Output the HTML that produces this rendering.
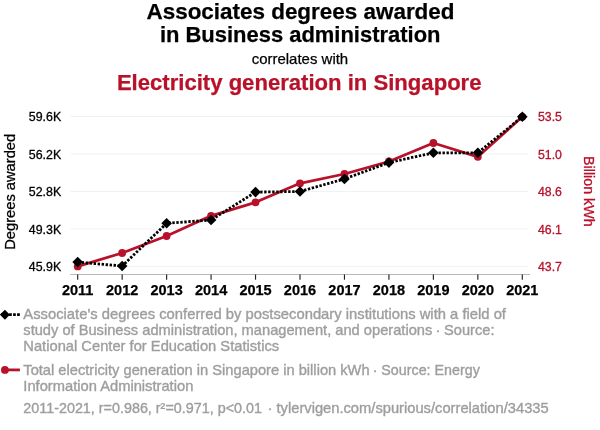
<!DOCTYPE html><html><head><meta charset="utf-8"><style>
html,body{margin:0;padding:0;background:#fff;}
body{width:600px;height:430px;overflow:hidden;position:relative;font-family:"Liberation Sans",sans-serif;}
svg{position:absolute;left:0;top:0;will-change:transform;}
svg text{font-family:"Liberation Sans",sans-serif;}
</style></head><body>
<svg width="600" height="430" viewBox="0 0 600 430">
<text id="t1" x="300.5" y="19.4" text-anchor="middle" font-size="22.45" font-weight="bold" fill="#000" stroke="#000" stroke-width="0.25">Associates degrees awarded</text>
<text id="t2" x="300.2" y="41.5" text-anchor="middle" font-size="21.96" font-weight="bold" fill="#000" stroke="#000" stroke-width="0.25">in Business administration</text>
<text id="t3" x="299.95" y="63.8" text-anchor="middle" font-size="14.97" fill="#000" stroke="#000" stroke-width="0.25">correlates with</text>
<text id="t4" x="299.2" y="89.7" text-anchor="middle" font-size="22.1" font-weight="bold" fill="#b8122a" stroke="#b8122a" stroke-width="0.25">Electricity generation in Singapore</text>
<line x1="70.5" x2="528" y1="116.5" y2="116.5" stroke="#f2f2f2" stroke-width="1"/>
<line x1="70.5" x2="528" y1="154.0" y2="154.0" stroke="#f2f2f2" stroke-width="1"/>
<line x1="70.5" x2="528" y1="191.5" y2="191.5" stroke="#f2f2f2" stroke-width="1"/>
<line x1="70.5" x2="528" y1="229.0" y2="229.0" stroke="#f2f2f2" stroke-width="1"/>
<line x1="70.5" x2="528" y1="266.3" y2="266.3" stroke="#f2f2f2" stroke-width="1"/>
<line x1="70.2" x2="530" y1="274.5" y2="274.5" stroke="#b4b4b4" stroke-width="0.95"/>
<line x1="77.70" x2="77.70" y1="274.5" y2="279.7" stroke="#222" stroke-width="1.15"/>
<line x1="122.16" x2="122.16" y1="274.5" y2="279.7" stroke="#222" stroke-width="1.15"/>
<line x1="166.62" x2="166.62" y1="274.5" y2="279.7" stroke="#222" stroke-width="1.15"/>
<line x1="211.08" x2="211.08" y1="274.5" y2="279.7" stroke="#222" stroke-width="1.15"/>
<line x1="255.54" x2="255.54" y1="274.5" y2="279.7" stroke="#222" stroke-width="1.15"/>
<line x1="300.00" x2="300.00" y1="274.5" y2="279.7" stroke="#222" stroke-width="1.15"/>
<line x1="344.46" x2="344.46" y1="274.5" y2="279.7" stroke="#222" stroke-width="1.15"/>
<line x1="388.92" x2="388.92" y1="274.5" y2="279.7" stroke="#222" stroke-width="1.15"/>
<line x1="433.38" x2="433.38" y1="274.5" y2="279.7" stroke="#222" stroke-width="1.15"/>
<line x1="477.84" x2="477.84" y1="274.5" y2="279.7" stroke="#222" stroke-width="1.15"/>
<line x1="522.30" x2="522.30" y1="274.5" y2="279.7" stroke="#222" stroke-width="1.15"/>
<text class="ll" x="61.2" y="121.0" text-anchor="end" font-size="12.4" fill="#000" stroke="#000" stroke-width="0.3">59.6K</text>
<text class="ll" x="61.2" y="158.5" text-anchor="end" font-size="12.4" fill="#000" stroke="#000" stroke-width="0.3">56.2K</text>
<text class="ll" x="61.2" y="196.0" text-anchor="end" font-size="12.4" fill="#000" stroke="#000" stroke-width="0.3">52.8K</text>
<text class="ll" x="61.2" y="233.5" text-anchor="end" font-size="12.4" fill="#000" stroke="#000" stroke-width="0.3">49.3K</text>
<text class="ll" x="61.2" y="270.8" text-anchor="end" font-size="12.4" fill="#000" stroke="#000" stroke-width="0.3">45.9K</text>
<text class="rl" x="538" y="121.0" text-anchor="start" font-size="12.3" fill="#b8122a" stroke="#b8122a" stroke-width="0.3">53.5</text>
<text class="rl" x="538" y="158.5" text-anchor="start" font-size="12.3" fill="#b8122a" stroke="#b8122a" stroke-width="0.3">51.0</text>
<text class="rl" x="538" y="196.0" text-anchor="start" font-size="12.3" fill="#b8122a" stroke="#b8122a" stroke-width="0.3">48.6</text>
<text class="rl" x="538" y="233.5" text-anchor="start" font-size="12.3" fill="#b8122a" stroke="#b8122a" stroke-width="0.3">46.1</text>
<text class="rl" x="538" y="270.8" text-anchor="start" font-size="12.3" fill="#b8122a" stroke="#b8122a" stroke-width="0.3">43.7</text>
<text class="xl" x="77.70" y="294.6" text-anchor="middle" font-size="14.5" font-weight="bold" fill="#000" stroke="#000" stroke-width="0.25">2011</text>
<text class="xl" x="122.16" y="294.6" text-anchor="middle" font-size="14.5" font-weight="bold" fill="#000" stroke="#000" stroke-width="0.25">2012</text>
<text class="xl" x="166.62" y="294.6" text-anchor="middle" font-size="14.5" font-weight="bold" fill="#000" stroke="#000" stroke-width="0.25">2013</text>
<text class="xl" x="211.08" y="294.6" text-anchor="middle" font-size="14.5" font-weight="bold" fill="#000" stroke="#000" stroke-width="0.25">2014</text>
<text class="xl" x="255.54" y="294.6" text-anchor="middle" font-size="14.5" font-weight="bold" fill="#000" stroke="#000" stroke-width="0.25">2015</text>
<text class="xl" x="300.00" y="294.6" text-anchor="middle" font-size="14.5" font-weight="bold" fill="#000" stroke="#000" stroke-width="0.25">2016</text>
<text class="xl" x="344.46" y="294.6" text-anchor="middle" font-size="14.5" font-weight="bold" fill="#000" stroke="#000" stroke-width="0.25">2017</text>
<text class="xl" x="388.92" y="294.6" text-anchor="middle" font-size="14.5" font-weight="bold" fill="#000" stroke="#000" stroke-width="0.25">2018</text>
<text class="xl" x="433.38" y="294.6" text-anchor="middle" font-size="14.5" font-weight="bold" fill="#000" stroke="#000" stroke-width="0.25">2019</text>
<text class="xl" x="477.84" y="294.6" text-anchor="middle" font-size="14.5" font-weight="bold" fill="#000" stroke="#000" stroke-width="0.25">2020</text>
<text class="xl" x="522.30" y="294.6" text-anchor="middle" font-size="14.5" font-weight="bold" fill="#000" stroke="#000" stroke-width="0.25">2021</text>
<text id="yl" transform="translate(14.7,191.8) rotate(-90)" text-anchor="middle" font-size="14.7" fill="#000" stroke="#000" stroke-width="0.3">Degrees awarded</text>
<text id="yr" transform="translate(584.0,191.35) rotate(90)" text-anchor="middle" textLength="70.6" lengthAdjust="spacingAndGlyphs" font-size="14.7" fill="#b8122a" stroke="#b8122a" stroke-width="0.3">Billion kWh</text>
<polyline points="77.70,266.4 122.16,253.0 166.62,236.0 211.08,215.8 255.54,202.3 300.00,183.3 344.46,174.0 388.92,161.5 433.38,143.0 477.84,156.8 522.30,116.8" fill="none" stroke="#b8122a" stroke-width="2.8" stroke-linejoin="round"/>
<circle cx="77.70" cy="266.4" r="3.9" fill="#b8122a"/>
<circle cx="122.16" cy="253.0" r="3.9" fill="#b8122a"/>
<circle cx="166.62" cy="236.0" r="3.9" fill="#b8122a"/>
<circle cx="211.08" cy="215.8" r="3.9" fill="#b8122a"/>
<circle cx="255.54" cy="202.3" r="3.9" fill="#b8122a"/>
<circle cx="300.00" cy="183.3" r="3.9" fill="#b8122a"/>
<circle cx="344.46" cy="174.0" r="3.9" fill="#b8122a"/>
<circle cx="388.92" cy="161.5" r="3.9" fill="#b8122a"/>
<circle cx="433.38" cy="143.0" r="3.9" fill="#b8122a"/>
<circle cx="477.84" cy="156.8" r="3.9" fill="#b8122a"/>
<circle cx="522.30" cy="116.8" r="3.9" fill="#b8122a"/>
<polyline points="77.70,262.1 122.16,266.0 166.62,223.3 211.08,220.0 255.54,192.1 300.00,191.5 344.46,178.9 388.92,162.6 433.38,152.8 477.84,152.8 522.30,116.8" fill="none" stroke="#000" stroke-width="2.8" stroke-dasharray="2.4 1.6"/>
<path d="M72.40 262.1 L77.70 256.8 L83.00 262.1 L77.70 267.40000000000003Z" fill="#000"/>
<path d="M116.86 266.0 L122.16 260.7 L127.46 266.0 L122.16 271.3Z" fill="#000"/>
<path d="M161.32 223.3 L166.62 218.0 L171.92 223.3 L166.62 228.60000000000002Z" fill="#000"/>
<path d="M205.78 220.0 L211.08 214.7 L216.38 220.0 L211.08 225.3Z" fill="#000"/>
<path d="M250.24 192.1 L255.54 186.79999999999998 L260.84 192.1 L255.54 197.4Z" fill="#000"/>
<path d="M294.70 191.5 L300.00 186.2 L305.30 191.5 L300.00 196.8Z" fill="#000"/>
<path d="M339.16 178.9 L344.46 173.6 L349.76 178.9 L344.46 184.20000000000002Z" fill="#000"/>
<path d="M383.62 162.6 L388.92 157.29999999999998 L394.22 162.6 L388.92 167.9Z" fill="#000"/>
<path d="M428.08 152.8 L433.38 147.5 L438.68 152.8 L433.38 158.10000000000002Z" fill="#000"/>
<path d="M472.54 152.8 L477.84 147.5 L483.14 152.8 L477.84 158.10000000000002Z" fill="#000"/>
<path d="M517.00 116.8 L522.30 111.5 L527.60 116.8 L522.30 122.1Z" fill="#000"/>
<line x1="1.1" x2="20.2" y1="314.7" y2="314.7" stroke="#000" stroke-width="2.7" stroke-dasharray="2.7 1.3"/>
<path d="M-0.1 314.7 L4.9 309.7 L9.9 314.7 L4.9 319.7Z" fill="#000"/>
<line x1="4" x2="19.9" y1="369.9" y2="369.9" stroke="#b8122a" stroke-width="2.8"/>
<circle cx="4.9" cy="369.9" r="3.9" fill="#b8122a"/>
<text id="g1" x="23.3" y="318.8" font-size="15" fill="#9e9e9e" stroke="#9e9e9e" stroke-width="0.38" textLength="482.68" lengthAdjust="spacingAndGlyphs">Associate's degrees conferred by postsecondary institutions with a field of</text>
<text id="g2a" x="23.3" y="334.9" font-size="15" fill="#9e9e9e" stroke="#9e9e9e" stroke-width="0.38" textLength="408.99" lengthAdjust="spacingAndGlyphs">study of Business administration, management, and operations</text>
<text id="g2c" x="444.0" y="334.9" font-size="15" fill="#9e9e9e" stroke="#9e9e9e" stroke-width="0.38" textLength="50.46" lengthAdjust="spacingAndGlyphs">Source:</text>
<text id="g3" x="23.3" y="351.0" font-size="15" fill="#9e9e9e" stroke="#9e9e9e" stroke-width="0.38" textLength="255.89" lengthAdjust="spacingAndGlyphs">National Center for Education Statistics</text>
<text id="g4a" x="23.3" y="374.7" font-size="15" fill="#9e9e9e" stroke="#9e9e9e" stroke-width="0.38" textLength="346.29" lengthAdjust="spacingAndGlyphs">Total electricity generation in Singapore in billion kWh</text>
<text id="g4c" x="381.35" y="374.7" font-size="15" fill="#9e9e9e" stroke="#9e9e9e" stroke-width="0.38" textLength="98.45" lengthAdjust="spacingAndGlyphs">Source: Energy</text>
<text id="g5" x="23.3" y="391.1" font-size="15" fill="#9e9e9e" stroke="#9e9e9e" stroke-width="0.38" textLength="170.03" lengthAdjust="spacingAndGlyphs">Information Administration</text>
<text id="g6a" x="23.3" y="413.3" font-size="15" fill="#9e9e9e" stroke="#9e9e9e" stroke-width="0.38" textLength="238.63" lengthAdjust="spacingAndGlyphs">2011-2021, r=0.986, r²=0.971, p&lt;0.01</text>
<text id="g6c" x="276.5" y="413.3" font-size="15" fill="#9e9e9e" stroke="#9e9e9e" stroke-width="0.38" textLength="272.2" lengthAdjust="spacingAndGlyphs">tylervigen.com/spurious/correlation/34335</text>
<text x="438.0" y="334.9" text-anchor="middle" font-size="15" fill="#9e9e9e" stroke="#9e9e9e" stroke-width="0.38">·</text>
<text x="375.0" y="374.7" text-anchor="middle" font-size="15" fill="#9e9e9e" stroke="#9e9e9e" stroke-width="0.38">·</text>
<text x="269.9" y="413.3" text-anchor="middle" font-size="15" fill="#9e9e9e" stroke="#9e9e9e" stroke-width="0.38">·</text>
</svg>
</body></html>
